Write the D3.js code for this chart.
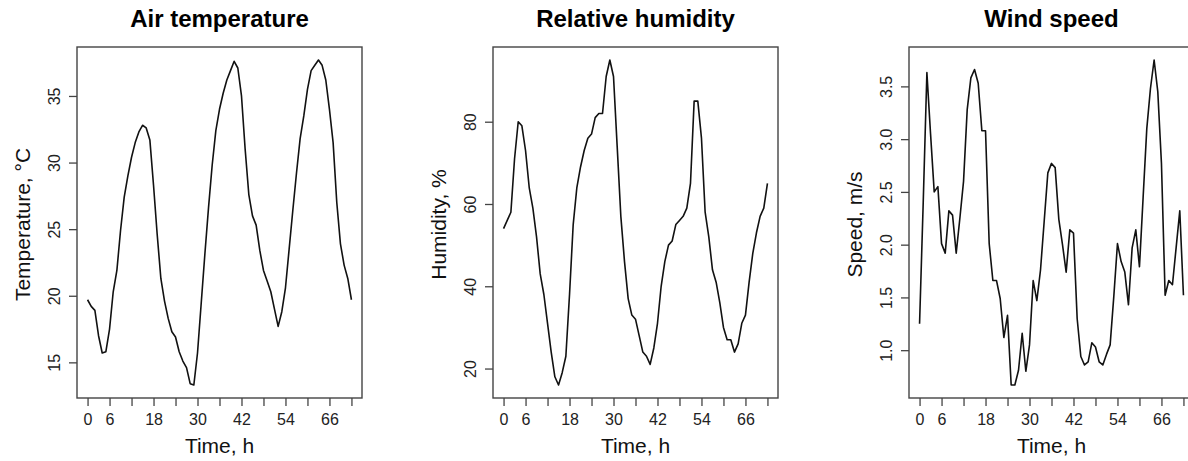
<!DOCTYPE html>
<html>
<head>
<meta charset="utf-8">
<script src="https://cdn.jsdelivr.net/npm/d3@7"></script>
<style>
  body { margin: 0; background: #fff; }
  svg { display: block; font-family: "Liberation Sans", Arial, sans-serif; }
</style>
</head>
<body>
<svg id="viz_area" width="1188" height="461"></svg>
<script>
const hours = [0, 1, 2, 3, 4, 5, 6, 7, 8, 9, 10, 11, 12, 13, 14, 15, 16, 17, 18, 19,
    20, 21, 22, 23, 24, 25, 26, 27, 28, 29, 30, 31, 32, 33, 34, 35, 36, 37, 38, 39,
    40, 41, 42, 43, 44, 45, 46, 47, 48, 49, 50, 51, 52, 53, 54, 55, 56, 57, 58, 59,
    60, 61, 62, 63, 64, 65, 66, 67, 68, 69, 70, 71, 72]

const airTemperature = [19.7, 19.2, 18.9, 17.0, 15.7, 15.8, 17.5, 20.3, 21.9, 24.9,
    27.4, 29.0, 30.4, 31.5, 32.3, 32.8, 32.6, 31.7, 28.3, 24.6,
    21.3, 19.6, 18.3, 17.3, 16.9, 15.8, 15.1, 14.6, 13.4, 13.3,
    15.7, 19.4, 23.1, 26.6, 29.8, 32.4, 34.0, 35.2, 36.2, 36.9,
    37.6, 37.1, 35.0, 31.0, 27.6, 26.0, 25.3, 23.4, 21.9, 21.1,
    20.3, 19.0, 17.7, 18.8, 20.6, 23.5, 26.4, 29.2, 31.8, 33.5,
    35.5, 36.9, 37.3, 37.7, 37.3, 36.2, 34.0, 31.5, 27.0, 23.9,
    22.3, 21.3, 19.7]

const relativeHumidity = [54, 56, 58, 71, 80, 79, 73, 64, 59, 52,
    43, 38, 31, 24, 18, 16, 19, 23, 38, 55,
    64, 69, 73, 76, 77, 81, 82, 82, 91, 95,
    91, 74, 57, 46, 37, 33, 32, 28, 24, 23,
    21, 25, 31, 40, 46, 50, 51, 55, 56, 57,
    59, 65, 85, 85, 76, 58, 52, 44, 41, 36,
    30, 27, 27, 24, 26, 31, 33, 41, 48, 53,
    57, 59, 65]

const windSpeed = [1.25, 2.40, 3.63, 3.05, 2.50, 2.55, 2.01, 1.92, 2.32, 2.28,
    1.92, 2.25, 2.60, 3.28, 3.58, 3.66, 3.53, 3.08, 3.08, 2.01,
    1.66, 1.66, 1.49, 1.12, 1.33, 0.67, 0.67, 0.81, 1.16, 0.80,
    1.05, 1.66, 1.47, 1.76, 2.22, 2.68, 2.77, 2.73, 2.24, 2.00,
    1.74, 2.14, 2.11, 1.30, 0.94, 0.86, 0.89, 1.07, 1.03, 0.89,
    0.86, 0.96, 1.05, 1.51, 2.01, 1.84, 1.74, 1.43, 1.97, 2.14,
    1.79, 2.45, 3.10, 3.48, 3.75, 3.45, 2.77, 1.52, 1.66, 1.62,
    1.97, 2.32, 1.52]

const hourTicks = [0, 6, 12, 18, 24, 30, 36, 42, 48, 54, 60, 66, 72]
const hourLabels = [0, 6, 18, 30, 42, 54, 66]
const temperatureTicks = [15, 20, 25, 30, 35]
const humidityTicks = [20, 40, 60, 80]
const speedTicks = [1.0, 1.5, 2.0, 2.5, 3.0, 3.5]

const panels = [
    { title: 'Air temperature', yTitle: 'Temperature, \u00B0C', values: airTemperature, ticks: temperatureTicks, format: d3.format('d') },
    { title: 'Relative humidity', yTitle: 'Humidity, %', values: relativeHumidity, ticks: humidityTicks, format: d3.format('d') },
    { title: 'Wind speed', yTitle: 'Speed, m/s', values: windSpeed, ticks: speedTicks, format: d3.format('.1f') }
]

const margin = {
    top: 47,
    left: 77
}

const panelWidth = 416
const boxSize = { width: 285, height: 351 }

// R style axis range: data extent plus 4% on each side
function padded(values) {
    const ext = d3.extent(values)
    const r = ext[1] - ext[0]
    return [ext[0] - 0.04 * r, ext[1] + 0.04 * r]
}

function drawPanel(panel, i) {
    const g = d3.select('#viz_area')
        .append('g')
        .attr('transform', 'translate(' + (margin.left + i * panelWidth) + ',' + margin.top + ')')

    const xScale = d3.scaleLinear()
        .domain(padded(hours))
        .range([0, boxSize.width])

    const yScale = d3.scaleLinear()
        .domain(padded(panel.values))
        .range([boxSize.height, 0])

    const xAxis = g.append('g')
        .attr('class', 'x axis')
        .attr('transform', 'translate(0,' + boxSize.height + ')')
        .call(d3.axisBottom(xScale)
            .tickValues(hourTicks)
            .tickSize(8)
            .tickFormat(function (d) { return hourLabels.includes(d) ? d : '' }))
    styleAxis(xAxis)
    xAxis.selectAll('text')
        .attr('y', 27)
        .attr('dy', null)

    const yAxis = g.append('g')
        .attr('class', 'y axis')
        .call(d3.axisLeft(yScale)
            .tickValues(panel.ticks)
            .tickSize(8)
            .tickFormat(panel.format))
    styleAxis(yAxis)
    yAxis.selectAll('text')
        .attr('transform', 'rotate(-90)')
        .attr('x', 0)
        .attr('y', -17)
        .attr('dy', null)
        .attr('text-anchor', 'middle')

    const line = d3.line()
        .x(function (d, j) { return xScale(hours[j]) })
        .y(function (d) { return yScale(d) })

    g.append('path')
        .datum(panel.values)
        .attr('d', line)
        .attr('fill', 'none')
        .attr('stroke', '#111')
        .attr('stroke-width', 1.6)
        .attr('stroke-linejoin', 'round')

    g.append('rect')
        .attr('width', boxSize.width)
        .attr('height', boxSize.height)
        .attr('fill', 'none')
        .attr('stroke', '#444')
        .attr('stroke-width', 1.4)

    g.append('text')
        .attr('x', boxSize.width / 2)
        .attr('y', -20)
        .attr('text-anchor', 'middle')
        .attr('font-size', 24)
        .attr('font-weight', 'bold')
        .attr('fill', '#000')
        .text(panel.title)

    g.append('text')
        .attr('x', boxSize.width / 2)
        .attr('y', boxSize.height + 55)
        .attr('text-anchor', 'middle')
        .attr('font-size', 21)
        .attr('fill', '#111')
        .text('Time, h')

    g.append('text')
        .attr('transform', 'translate(-47,' + (boxSize.height / 2 + 2) + ') rotate(-90)')
        .attr('text-anchor', 'middle')
        .attr('font-size', 21)
        .attr('fill', '#111')
        .text(panel.yTitle)
}

function styleAxis(axis) {
    axis.select('.domain').remove()
    axis.selectAll('line')
        .attr('stroke', '#444')
        .attr('stroke-width', 1.3)
    axis.selectAll('text')
        .attr('font-size', 16)
        .attr('font-family', '"Liberation Sans", Arial, sans-serif')
        .attr('fill', '#222')
}

panels.forEach(drawPanel)
</script>
</body>
</html>
